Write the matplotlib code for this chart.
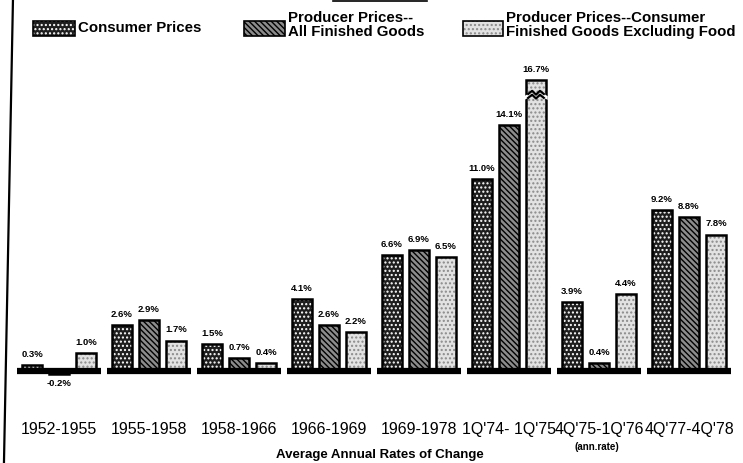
import numpy as np
import matplotlib
matplotlib.use("Agg")
import matplotlib.pyplot as plt
from matplotlib.patches import Rectangle, Polygon

periods = ["1952-1955", "1955-1958", "1958-1966", "1966-1969", "1969-1978",
           "1Q'74- 1Q'75", "4Q'75-1Q'76", "4Q'77-4Q'78"]
consumer = [0.3, 2.6, 1.5, 4.1, 6.6, 11.0, 3.9, 9.2]
producer_all = [-0.2, 2.9, 0.7, 2.6, 6.9, 14.1, 0.4, 8.8]
producer_excl_food = [1.0, 1.7, 0.4, 2.2, 6.5, 16.7, 4.4, 7.8]
series_names = ["Consumer Prices", "Producer Prices--\nAll Finished Goods",
                "Producer Prices--Consumer\nFinished Goods Excluding Food"]

plt.rcParams['font.family'] = ['Liberation Sans', 'DejaVu Sans']

# look of each series: face, hatch, hatch colour
styles = [("#1e1e1e", "....", "white"),
          ("#8c8c8c", "\\\\\\\\\\\\", "black"),
          ("#e2e2e2", "....", "#8a8a8a")]

fig = plt.figure(figsize=(7.43, 4.63), dpi=100)
ax = fig.add_axes([0, 0, 1, 1])
ax.set_xlim(-0.656, 7.6)
ax.set_ylim(-5.35, 21.3)
ax.axis("off")

x = np.arange(len(periods))
width = 0.22
offsets = [-0.3, 0.0, 0.3]
all_series = [consumer, producer_all, producer_excl_food]

for s, (vals, off, (fc, hatch, hc)) in enumerate(zip(all_series, offsets, styles)):
    # fill + hatch first, then a thick black outline on top
    ax.bar(x + off, vals, width, color=fc, hatch=hatch, edgecolor=hc, linewidth=0, zorder=2)
    ax.bar(x + off, vals, width, fill=False, edgecolor="black", linewidth=1.8, zorder=3)
    for xi, v in zip(x + off, vals):
        if v >= 0:
            ax.text(xi, v + 0.35, f"{v:.1f}%", ha="center", va="bottom",
                    fontsize=6.8, fontweight="bold", zorder=5)
        else:
            ax.text(xi, v - 0.3, f"{v:.1f}%", ha="center", va="top",
                    fontsize=6.8, fontweight="bold", zorder=5)

# broken bar marker on the tallest bar
big = int(np.argmax(producer_excl_food))
bx = x[big] + offsets[2]
top = producer_excl_food[big]
zx = np.linspace(bx - width / 2 - 0.02, bx + width / 2 + 0.02, 7)
lo = top - 1.15
zig_low = lo + np.array([0, 0.12, 0.3, 0.08, 0.3, 0.12, 0])
zig_high = zig_low + 0.22
band = Polygon(np.r_[np.c_[zx, zig_low], np.c_[zx[::-1], zig_high[::-1]]],
               closed=True, facecolor="white", edgecolor="none", zorder=4)
ax.add_patch(band)
ax.plot(zx[1:-1], zig_low[1:-1], color="black", lw=1.6, zorder=4.5)
ax.plot(zx[1:-1], zig_high[1:-1], color="black", lw=1.6, zorder=4.5)

# thick baseline under each group
for xi in x:
    ax.plot([xi - 0.47, xi + 0.47], [-0.05, -0.05], color="black", lw=4.5,
            solid_capstyle="butt", zorder=4)

# period labels
for xi, lab in zip(x, periods):
    ax.text(xi, -3.45, lab, ha="center", va="center", fontsize=11.5, zorder=5)
ax.text(x[6] - 0.02, -4.45, "(ann.rate)", ha="center", va="center", fontsize=7,
        fontweight="bold")
ax.text(3.566, -4.9, "Average Annual Rates of Change", ha="center", va="center",
        fontsize=9.5, fontweight="bold")

# legend drawn by hand
leg_x = [-0.289, 2.055, 4.489]
leg_w = [0.467, 0.456, 0.444]
text_x = [0.211, 2.544, 4.967]
text_y = [19.69, 19.86, 19.86]
for (fc, hatch, hc), lx, lw, tx, ty, name in zip(styles, leg_x, leg_w, text_x,
                                                  text_y, series_names):
    ax.add_patch(Rectangle((lx, 19.2), lw, 0.92, facecolor=fc, hatch=hatch,
                           edgecolor=hc, linewidth=0))
    ax.add_patch(Rectangle((lx, 19.2), lw, 0.92, fill=False, edgecolor="black",
                           linewidth=1.2))
    ax.text(tx, ty, name, ha="left", va="center", fontsize=10.8,
            fontweight="bold", linespacing=1.0)

# frame remnants from the scan
ax.plot([-0.512, -0.612], [21.3, -5.35], color="black", lw=1.6)
ax.plot([3.044, 4.089], [21.22, 21.22], color="black", lw=1.2)

fig.savefig("out.png", dpi=100)
